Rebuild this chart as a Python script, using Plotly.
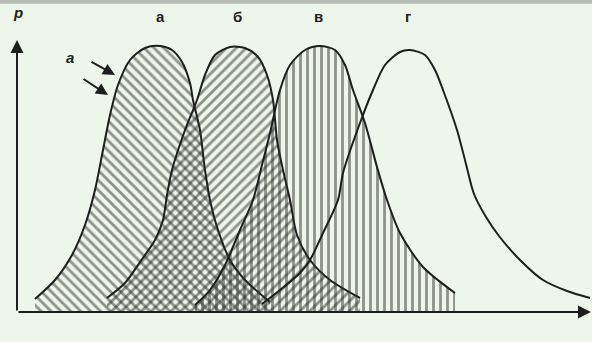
import plotly.graph_objects as go

# Кривые распределения (V - скорость, P - вероятность)
v_a = [18, 38, 55, 68, 78, 86, 93, 101, 113, 128, 143, 155, 165, 173, 176, 183, 188, 193, 201, 213, 228, 253]
p_a = [13, 32, 57, 87, 122, 162, 197, 227, 252, 264, 266, 262, 250, 229, 212, 182, 142, 112, 82, 52, 32, 10]

v_b = [90, 108, 123, 138, 146, 150, 155, 168, 180, 188, 198, 213, 228, 241, 250, 256, 260, 266, 273, 280, 293, 313, 343]
p_b = [14, 29, 50, 72, 92, 117, 142, 182, 212, 237, 257, 265, 264, 255, 237, 212, 172, 142, 112, 77, 52, 32, 14]

v_v = [178, 193, 208, 223, 236, 245, 253, 263, 273, 288, 303, 318, 328, 336, 348, 360, 370, 383, 406, 438]
p_v = [7, 22, 47, 82, 112, 147, 179, 222, 247, 262, 266, 262, 247, 222, 189, 145, 112, 79, 45, 19]

v_g = [245, 263, 283, 293, 306, 321, 326, 343, 356, 368, 383, 393, 408, 418, 426, 440, 449, 457, 469, 482, 503, 526, 550, 573]
p_g = [8, 22, 39, 52, 79, 112, 139, 189, 222, 247, 260, 262, 257, 242, 222, 182, 148, 118, 95, 76, 52, 32, 21, 14]

peak_labels = ["а", "б", "в", "г"]
peak_v = [143, 220, 301, 391]

bg = "#eef5ea"
ink = "#1e1e1e"

curves = [
    (v_a, p_a, "\\"),
    (v_b, p_b, "/"),
    (v_v, p_v, "|"),
    (v_g, p_g, None),
]

fig = go.Figure()

for vs, ps, hatch in curves:
    kw = dict(
        x=vs, y=ps, mode="lines",
        line=dict(color=ink, width=2, shape="spline", smoothing=0.8),
        hoverinfo="skip", showlegend=False,
    )
    if hatch:
        kw.update(
            fill="tozeroy",
            fillcolor="rgba(0,0,0,0)",
            fillpattern=dict(shape=hatch, size=7, solidity=0.4,
                             fgcolor="#2e2e2e", bgcolor="rgba(0,0,0,0)"),
        )
    fig.add_trace(go.Scatter(**kw))

# подписи кривых
for lab, v in zip(peak_labels, peak_v):
    fig.add_annotation(x=v, y=296, text="<b>" + lab + "</b>", showarrow=False,
                       font=dict(size=15, color=ink, family="Liberation Sans"))

# оси со стрелками
fig.add_annotation(x=0, y=272, ax=0, ay=272, axref="pixel", ayref="pixel",
                   xref="x", yref="y", text="", showarrow=True,
                   arrowhead=2, arrowsize=1.3, arrowwidth=2, arrowcolor=ink)
fig.add_annotation(x=574, y=0, ax=-574, ay=0, xref="x", yref="y", text="",
                   showarrow=True, arrowhead=2, arrowsize=1.3, arrowwidth=2,
                   arrowcolor=ink)

# подписи осей
fig.add_annotation(x=1, y=300, text="<b><i>р</i></b>", showarrow=False,
                   font=dict(size=15, color=ink, family="Liberation Sans"))
fig.add_annotation(x=301, y=-13, text="<b><i>I</i></b>", showarrow=False,
                   font=dict(size=14, color=ink, family="Liberation Sans"))
fig.add_annotation(x=561, y=-13, text="<b><i>V</i></b>", showarrow=False,
                   font=dict(size=14, color=ink, family="Liberation Sans"))

# буква "а" со стрелками
fig.add_annotation(x=53, y=255, text="<b><i>a</i></b>", showarrow=False,
                   font=dict(size=15, color=ink, family="Liberation Sans"))
fig.add_annotation(x=98, y=237, ax=-25, ay=-14, xref="x", yref="y", text="",
                   showarrow=True, arrowhead=2, arrowsize=1.2, arrowwidth=2,
                   arrowcolor=ink)
fig.add_annotation(x=91, y=217, ax=-26, ay=-17, xref="x", yref="y", text="",
                   showarrow=True, arrowhead=2, arrowsize=1.2, arrowwidth=2,
                   arrowcolor=ink)

# серая полоса сверху (край скана)
fig.add_shape(type="rect", xref="paper", yref="paper",
              x0=-0.03, x1=1.0, y0=0.988, y1=1.0,
              fillcolor="#b8bcb6", line_width=0, layer="below")

fig.update_layout(
    width=592, height=342,
    margin=dict(l=17, r=0, t=0, b=30),
    paper_bgcolor=bg, plot_bgcolor=bg,
    xaxis=dict(range=[0, 575], visible=False),
    yaxis=dict(range=[0, 312], visible=False),
)

fig.write_html("out.html", config={"displayModeBar": False},
               post_script="document.body.style.margin='0';")
